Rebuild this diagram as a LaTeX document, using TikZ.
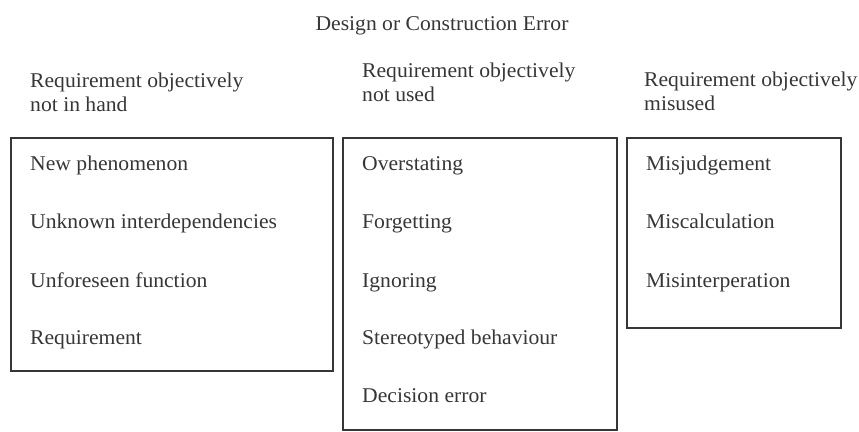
\documentclass[tikz,border=0pt]{standalone}
\usepackage{fontspec}
\setmainfont{Liberation Serif}[FakeStretch=1.03]
\usepackage{xcolor}
\usepackage{tikz}
\usetikzlibrary{positioning}

\definecolor{inkgray}{HTML}{363636}

\begin{document}
\begin{tikzpicture}[x=1pt, y=-1pt, font=\fontsize{21}{24}\selectfont, text=inkgray,
		head/.style={anchor=west, align=left, inner sep=0pt},
		item/.style={anchor=base west, inner sep=0pt},
		listbox/.style={draw=inkgray, line width=1.6pt, anchor=north west, inner sep=0pt}]
		\useasboundingbox (0,0) rectangle (859,431);

		% Title
		\node[anchor=base] (title) at (442,30) {Design or Construction Error};

		% Column headers
		\node[head] (hdinhand) at (30,92) {Requirement objectively\\not in hand};
		\node[head] (hdnotused) at (362,82) {Requirement objectively\\not used};
		\node[head] (hdmisused) at (644,91) {Requirement objectively\\misused};

		% Boxes
		\node[listbox, minimum width=322pt, minimum height=233pt] (boxinhand) at (10,137) {};
		\node[listbox, minimum width=274pt, minimum height=292pt] (boxnotused) at (342,137) {};
		\node[listbox, minimum width=214pt, minimum height=190pt] (boxmisused) at (626,137) {};

		% Column 1
		\node[item] (newphen) at (30,170) {New phenomenon};
		\node[item] (unknown) at (30,228) {Unknown interdependencies};
		\node[item] (unforeseen) at (30,287) {Unforeseen function};
		\node[item] (requirement) at (30,344) {Requirement};

		% Column 2
		\node[item] (overstating) at (362,170) {Overstating};
		\node[item] (forgetting) at (362,228) {Forgetting};
		\node[item] (ignoring) at (362,287) {Ignoring};
		\node[item] (stereotyped) at (362,344) {Stereotyped behaviour};
		\node[item] (decision) at (362,402) {Decision error};

		% Column 3
		\node[item] (misjudge) at (646,170) {Misjudgement};
		\node[item] (miscalc) at (646,228) {Miscalculation};
		\node[item] (misinterp) at (646,287) {Misinterperation};

	\end{tikzpicture}
\end{document}
